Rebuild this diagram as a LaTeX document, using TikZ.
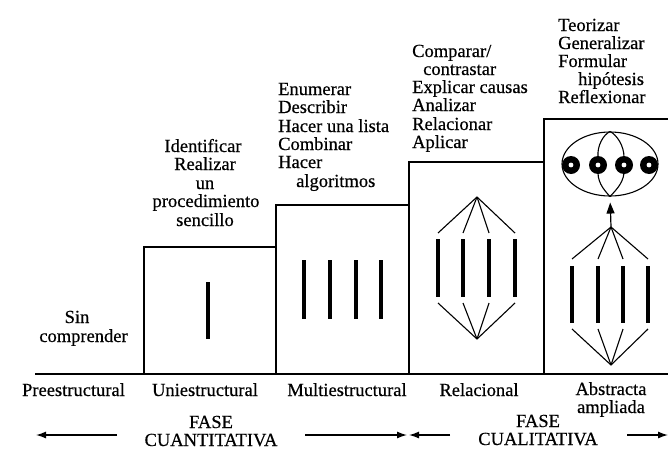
\documentclass[tikz,border=0pt]{standalone}
\usepackage{fontspec}
\setmainfont[FakeBold=0.5]{Liberation Serif}
\usetikzlibrary{arrows.meta,shapes.geometric}
\begin{document}
\begin{tikzpicture}[x=1pt,y=-1pt,
  lbl/.style={inner sep=0pt, font=\fontsize{18.5}{18.5}\selectfont},
  stepline/.style={line width=1.9pt, line join=miter},
  thinline/.style={line width=1.1pt},
  bar/.style={line width=4pt},
  phasearrow/.style={-{Latex[length=10pt,width=7pt]}, line width=1.3pt}]
\useasboundingbox (0,0) rectangle (668,450);

% staircase of levels
\draw[stepline] (144,374) -- (144,247) -- (276,247) -- (276,205) -- (409,205)
  -- (409,162) -- (544,162) -- (544,119) -- (668,119);
\draw[stepline] (276,247) -- (276,374);
\draw[stepline] (409,205) -- (409,374);
\draw[stepline] (544,162) -- (544,374);
\draw[line width=2.4pt] (35,374) -- (668,374);

% uniestructural: one bar
\draw[bar] (208,282) -- (208,339);

% multiestructural: four bars
\foreach \x in {304,330,356,381} \draw[bar] (\x,260) -- (\x,319);

% relacional: four bars tied together
\coordinate (rtop) at (477,197);
\coordinate (rbot) at (477,339);
\foreach \x [count=\i] in {438,463,489,515} {
  \coordinate (rt\i) at (\x,233);
  \coordinate (rb\i) at (\x,303);
  \draw[bar] (\x,239) -- (\x,297);
  \draw[thinline] (rtop) -- (rt\i);
  \draw[thinline] (rb\i) -- (rbot);
}

% abstracta ampliada: tied bars leading up to a new whole
\coordinate (atop) at (611,227);
\coordinate (abot) at (611,365);
\foreach \x [count=\i] in {572,598,623,648} {
  \coordinate (at\i) at (\x,259);
  \coordinate (ab\i) at (\x,329);
  \draw[bar] (\x,266) -- (\x,323);
  \draw[thinline] (atop) -- (at\i);
  \draw[thinline] (ab\i) -- (abot);
}
\node[draw, thinline, ellipse, minimum width=96pt, minimum height=64pt, inner sep=0pt]
  (whole) at (610,164) {};
\draw[thinline] (whole.north) .. controls (603,135) and (597,146) .. (598,157);
\draw[thinline] (whole.north) .. controls (617,135) and (624,146) .. (624,157);
\draw[thinline] (598,173) .. controls (598,184) and (606,192) .. (whole.south);
\draw[thinline] (624,173) .. controls (623,184) and (614,192) .. (whole.south);
\foreach \x [count=\i] in {571,598,624,649} {
  \fill (\x,165) circle (9pt);
  \fill[white] (\x,165) circle (2.4pt);
}
\draw[line width=1.2pt, -{Triangle[length=11pt,width=8pt]}, shorten >=6pt] (atop) -- (whole.south);

% level names
\node[lbl, anchor=base] (pre) at (73.5,396) {Preestructural};
\node[lbl, anchor=base] (uni) at (205,396) {Uniestructural};
\node[lbl, anchor=base] (multi) at (347,396) {Multiestructural};
\node[lbl, anchor=base] (rel) at (479,396) {Relacional};
\node[lbl, anchor=base] (absA) at (611,395) {Abstracta};
\node[lbl, anchor=base] (absB) at (611,413) {ampliada};

% phases
\node[lbl, anchor=base] (fq1) at (211,428) {FASE};
\node[lbl, anchor=base] (fq2) at (211,446) {CUANTITATIVA};
\node[lbl, anchor=base] (fl1) at (538,427) {FASE};
\node[lbl, anchor=base] (fl2) at (538,445) {CUALITATIVA};
\coordinate (qa) at (117,435); \coordinate (qb) at (36,435);
\coordinate (qc) at (305,435); \coordinate (qd) at (407,435);
\coordinate (la) at (450,435); \coordinate (lb) at (409,435);
\coordinate (lc) at (627,435); \coordinate (ld) at (668,435);
\draw[phasearrow] (qa) -- (qb);
\draw[phasearrow] (qc) -- (qd);
\draw[phasearrow] (la) -- (lb);
\draw[phasearrow] (lc) -- (ld);

% verbs of each level
\node[lbl, anchor=base] (s1) at (77,323) {Sin};
\node[lbl, anchor=base] (s2) at (83.5,342) {comprender};

\node[lbl, anchor=base] (u1) at (203,152) {Identificar};
\node[lbl, anchor=base] (u2) at (205,170) {Realizar};
\node[lbl, anchor=base] (u3) at (205,189) {un};
\node[lbl, anchor=base] (u4) at (206,207) {procedimiento};
\node[lbl, anchor=base] (u5) at (205,226) {sencillo};

\node[lbl, anchor=base west] (m1) at (278,95) {Enumerar};
\node[lbl, anchor=base west] (m2) at (278,113) {Describir};
\node[lbl, anchor=base west] (m3) at (278,132) {Hacer una lista};
\node[lbl, anchor=base west] (m4) at (278,150) {Combinar};
\node[lbl, anchor=base west] (m5) at (278,168) {Hacer};
\node[lbl, anchor=base west] (m6) at (296,187) {algoritmos};

\node[lbl, anchor=base west] (r1) at (412,57) {Comparar/};
\node[lbl, anchor=base west] (r2) at (423,75) {contrastar};
\node[lbl, anchor=base west] (r3) at (412,93) {Explicar causas};
\node[lbl, anchor=base west] (r4) at (412,111) {Analizar};
\node[lbl, anchor=base west] (r5) at (412,130) {Relacionar};
\node[lbl, anchor=base west] (r6) at (412,148) {Aplicar};

\node[lbl, anchor=base west] (a1) at (558,31) {Teorizar};
\node[lbl, anchor=base west] (a2) at (558,49) {Generalizar};
\node[lbl, anchor=base west] (a3) at (558,67) {Formular};
\node[lbl, anchor=base west] (a4) at (578,85) {hipótesis};
\node[lbl, anchor=base west] (a5) at (558,103) {Reflexionar};
\end{tikzpicture}
\end{document}
